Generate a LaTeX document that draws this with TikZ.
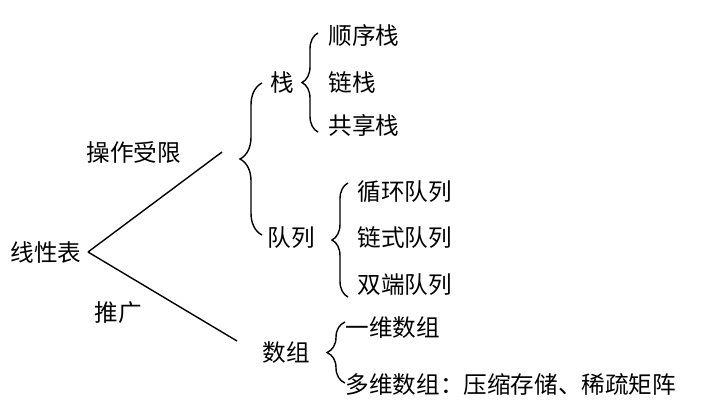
\documentclass[tikz,border=0pt]{standalone}
\usepackage{fontspec}
\newfontfamily\cjk{Noto Sans CJK SC}
\usetikzlibrary{decorations.pathreplacing}

\begin{document}
\begin{tikzpicture}[x=0.5pt, y=-0.5pt, line width=0.7pt,
  every node/.style={font=\cjk\fontsize{11.8}{14}\selectfont, inner sep=0pt, anchor=west},
  curly/.style={decorate, decoration={brace, amplitude=#1}}]
  \def\bigamp{11pt}
  \def\smallamp{8pt}

  % Frame
  \useasboundingbox (0,0) rectangle (707,409);

  % Root and the two branches
  \node (root) at (10,252) {线性表};
  \coordinate (fork) at (88,252);
  \coordinate (upend) at (222,152);
  \coordinate (downend) at (237,341);
  \draw (fork) -- (upend);
  \draw (fork) -- (downend);
  \node[anchor=center] (limit) at (134,152) {操作受限};
  \node[anchor=center] (extend) at (118,313) {推广};

  % Restricted: stack and queue
  \draw[curly=\bigamp] (262,235) -- (262,83);
  \node (stack) at (270,83) {栈};
  \node (queue) at (267,238) {队列};

  % Stack kinds
  \draw[curly=\smallamp] (318,132) -- (318,33);
  \node (seqstack) at (328,36) {顺序栈};
  \node (linkstack) at (328,82) {链栈};
  \node (sharestack) at (328,125) {共享栈};

  % Queue kinds
  \draw[curly=\smallamp] (348,297) -- (348,183);
  \node (circq) at (357,192) {循环队列};
  \node (linkq) at (357,238) {链式队列};
  \node (dequeue) at (357,285) {双端队列};

  % Generalised: array
  \node (array) at (262,353) {数组};
  \draw[curly=9pt] (345,383) -- (345,322);
  \node (onedim) at (345,328) {一维数组};
  \node (multidim) at (345,384) {多维数组：压缩存储、稀疏矩阵};
\end{tikzpicture}
\end{document}
